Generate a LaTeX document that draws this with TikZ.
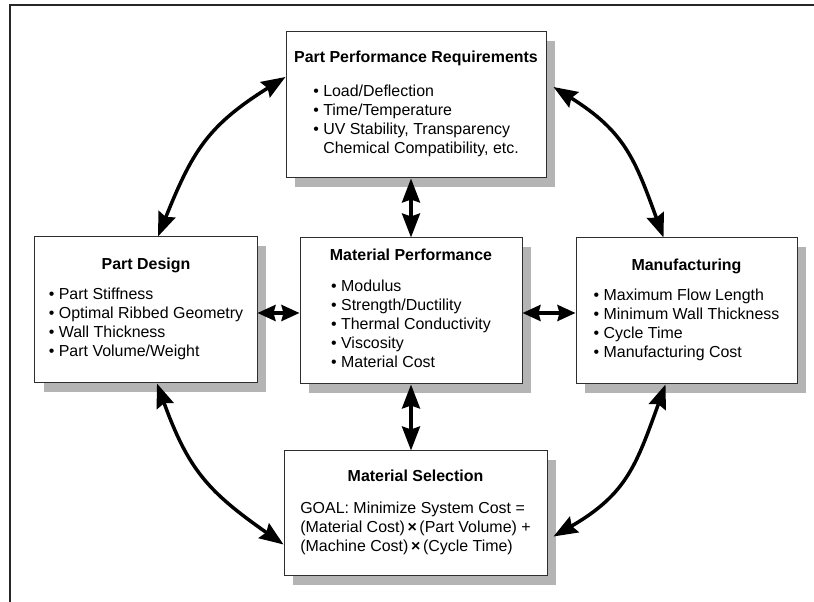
\documentclass[tikz,border=0pt]{standalone}
\usepackage{fontspec}
\setmainfont{Liberation Sans}
\usepackage{tikz}
\usetikzlibrary{positioning,arrows.meta,calc,shadows}
\definecolor{sdline}{HTML}{2E2E2E}
\definecolor{sdframe}{HTML}{262626}
\definecolor{sdshadow}{HTML}{B4B4B4}

\begin{document}
\begin{tikzpicture}[
  x=1bp, y=1bp,
  font=\fontsize{16}{19}\selectfont,
  box/.style={draw=sdline, line width=1bp, fill=white, minimum height=146bp,
              inner sep=0pt, align=center,
              drop shadow={shadow xshift=9bp, shadow yshift=-9bp,
                           fill=sdshadow, opacity=1}},
  link/.style={{Stealth[length=24bp,width=18bp,inset=3bp]}-{Stealth[length=24bp,width=18bp,inset=3bp]},
               line width=3.5bp, draw=black},
  short/.style={{Stealth[length=18bp,width=16bp,inset=2bp]}-{Stealth[length=18bp,width=16bp,inset=2bp]},
                line width=3.5bp, draw=black},
]
  \useasboundingbox (0,0) rectangle (814,602);
  \draw[sdframe, line width=1.6bp] (814,597) -- (10,597) -- (10,0);

  % ---- the five boxes ------------------------------------------------------
  \node[box, minimum width=260bp] (req) at (416,497)
    {\textbf{Part Performance Requirements}\\[16bp]
     \begin{tabular}[t]{@{}l@{}}
       • Load/Deflection\\
       • Time/Temperature\\
       • UV Stability, Transparency\\
       \phantom{• }Chemical Compatibility, etc.
     \end{tabular}};
  \node[box, minimum width=222bp] (design) at (146,292)
    {\textbf{Part Design}\\[12bp]
     \begin{tabular}[t]{@{}l@{}}
       • Part Stiffness\\
       • Optimal Ribbed Geometry\\
       • Wall Thickness\\
       • Part Volume/Weight
     \end{tabular}};
  \node[box, minimum width=222bp] (matperf) at (411,291)
    {\textbf{Material Performance}\\[12bp]
     \begin{tabular}[t]{@{}l@{}}
       • Modulus\\
       • Strength/Ductility\\
       • Thermal Conductivity\\
       • Viscosity\\
       • Material Cost
     \end{tabular}};
  \node[box, minimum width=221bp] (mfg) at (686.5,291)
    {\textbf{Manufacturing}\\[12bp]
     \begin{tabular}[t]{@{}l@{}}
       • Maximum Flow Length\\
       • Minimum Wall Thickness\\
       • Cycle Time\\
       • Manufacturing Cost
     \end{tabular}};
  \node[box, minimum width=263bp, minimum height=125bp] (select) at (415.5,88.5)
    {\textbf{Material Selection}\\[13bp]
     \begin{tabular}[t]{@{}l@{}}
       GOAL: Minimize System Cost =\\
       (Material Cost)\,{\bfseries ×}\,(Part Volume) +\\
       (Machine Cost)\,{\bfseries ×}\,(Cycle Time)
     \end{tabular}};

  % ---- outer loop ----------------------------------------------------------
  \draw[link] ([xshift=12bp]design.north) to[out=68, in=212, looseness=1.15]
    ([yshift=28bp]req.west);
  \draw[link] ([xshift=7bp,yshift=18bp]req.east) to[out=-32, in=110, looseness=1.15]
    ([xshift=-23bp]mfg.north);
  \draw[link] ([xshift=11bp]design.south) to[out=-70, in=145, looseness=1.15]
    ([yshift=-31bp]select.west);
  \draw[link] ([xshift=-21bp]mfg.south) to[out=-110, in=30, looseness=1.15]
    ([xshift=6bp,yshift=-23bp]select.east);

  % ---- links through the centre box ----------------------------------------
  \draw[link] (matperf.north |- req.south) -- (matperf.north);
  \draw[link] (matperf.south) -- (matperf.south |- select.north);
  \draw[short] ([yshift=-2bp]matperf.west -| design.east) -- ([yshift=-2bp]matperf.west);
  \draw[short] ([yshift=-2bp]matperf.east) -- ([yshift=-2bp]matperf.east -| mfg.west);
\end{tikzpicture}
\end{document}
